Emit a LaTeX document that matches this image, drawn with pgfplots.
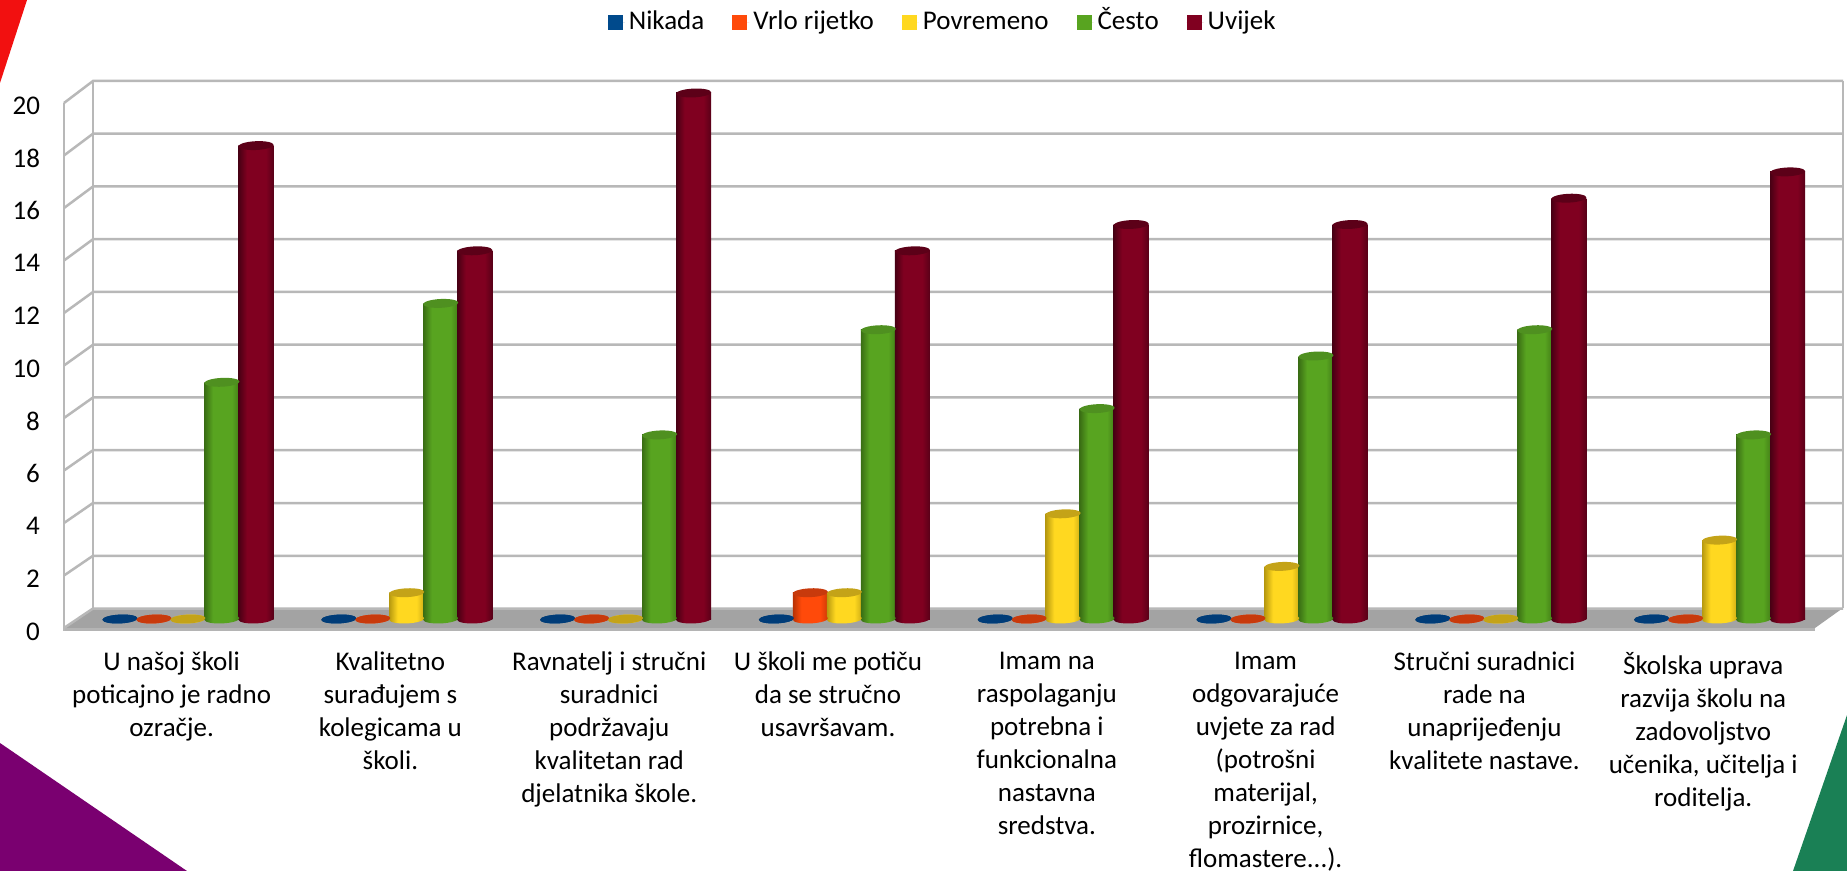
\documentclass[border=0pt]{standalone}
\usepackage{pgfplots}
\usepackage{pgfplotstable}
\usepackage{fontspec}
\setmainfont{Carlito}
\pgfplotsset{compat=1.18}
\definecolor{nb}{HTML}{004A8C}\definecolor{nbt}{HTML}{003C78}
\definecolor{vb}{HTML}{FF4A0A}\definecolor{vbt}{HTML}{C83A0C}
\definecolor{pb}{HTML}{FFD820}\definecolor{pbt}{HTML}{C4A318}
\definecolor{cb}{HTML}{58A420}\definecolor{cbt}{HTML}{4F9020}
\definecolor{ub}{HTML}{800020}\definecolor{ubt}{HTML}{5C0018}
\definecolor{gridc}{HTML}{B8B8B8}
\definecolor{floorc}{HTML}{A3A3A3}
\definecolor{bandc}{HTML}{B4B4B4}
\definecolor{triP}{HTML}{7A0070}
\definecolor{triG}{HTML}{1A8055}
\definecolor{triR}{HTML}{F21010}
\newcommand\cylshade[3]{\pgfdeclarehorizontalshading{#1}{100bp}{color(0bp)=(#2);color(25bp)=(#2);color(37bp)=(#3);color(64bp)=(#3);color(75bp)=(#2!70!#3);color(100bp)=(#2!70!#3)}}
\definecolor{nd}{HTML}{002F5C}\definecolor{vd}{HTML}{B83205}\definecolor{pd}{HTML}{B89A10}\definecolor{cd}{HTML}{3A6E14}\definecolor{ud}{HTML}{480014}
\cylshade{cyln}{nd}{nb}\cylshade{cylv}{vd}{vb}\cylshade{cylp}{pd}{pb}\cylshade{cylc}{cd}{cb}\cylshade{cylu}{ud}{ub}
\pgfdeclareplotmark{cyltop}{\pgfpathellipse{\pgfpointorigin}{\pgfpoint{8.75pt}{0.4pt}}{\pgfpoint{-0.1pt}{2.2pt}}\pgfusepathqfill}
\newcommand\cylbase[1]{\pgfdeclareplotmark{bot#1}{\pgfpathellipse{\pgfpointorigin}{\pgfpoint{8.75pt}{0.4pt}}{\pgfpoint{-0.1pt}{2.2pt}}\pgfshadepath{#1}{0}\pgfusepath{discard}}}
\cylbase{cyln}\cylbase{cylv}\cylbase{cylp}\cylbase{cylc}\cylbase{cylu}
\pgfplotstableread{
x n v p c u
0 0 0 0 9 18
1 0 0 1 12 14
2 0 0 0 7 20
3 0 1 1 11 14
4 0 0 4 8 15
5 0 0 2 10 15
6 0 0 0 11 16
7 0 0 3 7 17
}\datatable
\def\threedots{...}
\newcommand\series[4]{% column, shift, shading, body/top
  \addplot[forget plot,only marks,mark=bot#3] table[x expr=\thisrow{x}+#2,y expr=0]{\datatable};
  \pgfplotsinvokeforeach{0,...,7}{%
    \addplot[forget plot,ybar,bar width=17.5pt,bar shift=0pt,draw=none,shading=#3,restrict y to domain=0.5:30,restrict expr to domain={\coordindex}{##1:##1}] table[x expr=\thisrow{x}+#2,y=#1]{\datatable};
  }
  \addplot[forget plot,only marks,mark=cyltop,mark options={draw=none,fill=#4bt}] table[x expr=\thisrow{x}+#2,y=#1]{\datatable};
}
\begin{document}
\begin{tikzpicture}[x=0.5pt,y=-0.5pt]
\path[use as bounding box] (0,0) rectangle (1847,871);
\fill[white] (0,0) rectangle (1847,871);
\fill[triR] (0,0)--(27,0)--(0,83)--cycle;
\fill[triP] (0,743)--(187,871)--(0,871)--cycle;
\fill[triG] (1847,715)--(1793,871)--(1847,871)--cycle;
\fill[floorc] (93,608)--(1843,608)--(1815,628)--(64,628)--cycle;
\fill[bandc] (64,628) rectangle (1815,631);
\foreach \k in {0,...,10}{
  \pgfmathsetmacro\yb{608.5-52.75*\k}
  \pgfmathsetmacro\yf{628-52.5*\k}
  \draw[gridc,line width=1.25pt] (64,\yf)--(93,\yb)--(1843,\yb);
}
\draw[gridc,line width=1.25pt] (93,81)--(93,608);
\draw[gridc,line width=1.25pt] (64,103)--(64,631);
\draw[gridc,line width=1.25pt] (1843,81)--(1843,608);
\coordinate (ax) at (64,631);
\begin{axis}[
  at={(ax)},anchor=south west,scale only axis,width=889.5pt,height=275pt,
  xmin=-0.5667,xmax=7.5639,ymin=-0.456,ymax=20.456,clip=false,
  axis line style={draw=none},tick style={draw=none},
  ytick={0,2,...,20},xtick={0,...,7},
  /pgf/number format/assume math mode=true,
  ticklabel style={font=\fontsize{13.5}{16.5}\selectfont,text=black},
  yticklabel style={xshift=-8.5pt,yshift=-6.25pt},
  xticklabels={{U našoj školi\\poticajno je radno\\ozračje.},
    {Kvalitetno\\surađujem s\\kolegicama u\\školi.},
    {Ravnatelj i stručni\\suradnici\\podržavaju\\kvalitetan rad\\djelatnika škole.},
    {U školi me potiču\\da se stručno\\usavršavam.},
    {Imam na\\raspolaganju\\potrebna i\\funkcionalna\\nastavna\\sredstva.},
    {Imam\\odgovarajuće\\uvjete za rad\\(potrošni\\materijal,\\prozirnice,\\flomastere\threedots).},
    {Stručni suradnici\\rade na\\unaprijeđenju\\kvalitete nastave.},
    {Školska uprava\\razvija školu na\\zadovoljstvo\\učenika, učitelja i\\roditelja.}},
  xticklabel style={align=center,anchor=north,xshift=-8.2pt,yshift=-7pt},
  legend style={at={(0.4945,1.107)},anchor=center,draw=none,fill=none,legend columns=5,
    font=\fontsize{13.5}{16.5}\selectfont,
    nodes={text height=10pt,text depth=3pt},
    /tikz/every even column/.append style={column sep=12pt}},
  legend image code/.code={\fill[#1] (0pt,-3.75pt) rectangle (7.5pt,3.75pt);\path (0pt,0pt)--(8.5pt,0pt);},
]
\addlegendimage{fill=nb,draw=none}\addlegendentry{Nikada}
\addlegendimage{fill=vb,draw=none}\addlegendentry{Vrlo rijetko}
\addlegendimage{fill=pb,draw=none}\addlegendentry{Povremeno}
\addlegendimage{fill=cb,draw=none}\addlegendentry{Često}
\addlegendimage{fill=ub,draw=none}\addlegendentry{Uvijek}
\series{n}{-0.3108}{cyln}{n}
\series{v}{-0.1554}{cylv}{v}
\series{p}{0}{cylp}{p}
\series{c}{0.1554}{cylc}{c}
\series{u}{0.3108}{cylu}{u}
\end{axis}
\end{tikzpicture}
\end{document}
